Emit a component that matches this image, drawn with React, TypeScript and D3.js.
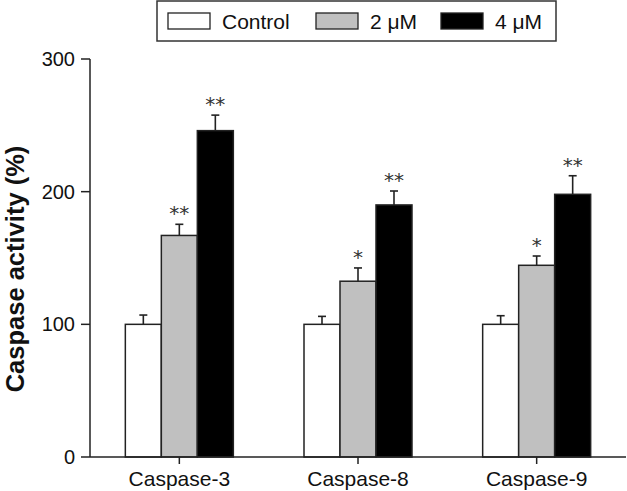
import React from "react";
import * as d3 from "d3";

const categories = ["Caspase-3", "Caspase-8", "Caspase-9"];
const seriesNames = ["Control", "2 μM", "4 μM"];
const controlValues = [100, 100, 100];
const controlErrors = [7, 6, 6.5];
const low2Values = [167, 132.5, 144.5];
const low2Errors = [8.4, 10, 7];
const high4Values = [246, 190, 198];
const high4Errors = [11.7, 10.5, 14];
const low2Stars = ["**", "*", "*"];
const high4Stars = ["**", "**", "**"];
const yTicks = [0, 100, 200, 300];

const seriesValues = [controlValues, low2Values, high4Values];
const seriesErrors = [controlErrors, low2Errors, high4Errors];
const seriesStars = [null, low2Stars, high4Stars];
const fills = ["#ffffff", "#c0c0c0", "#000000"];

const W = 627;
const H = 491;
const FONT = "'Liberation Sans', Arial, Helvetica, sans-serif";

export default function App() {
  const x0 = d3.scaleBand<string>().domain(categories).range([90, 626]).padding(0);
  const groupW = 108;
  const x1 = d3.scaleBand<string>().domain(seriesNames).range([0, groupW]).padding(0);
  const y = d3.scaleLinear().domain([0, 300]).range([457, 59]);
  const stroke = "#222";

  return (
    <svg width={W} height={H} style={{ position: "absolute", left: 0, top: 0, background: "#fff" }} fontFamily={FONT}>
      {/* bars */}
      {categories.map((cat, ci) => {
        const gx = (x0(cat) as number) + (x0.bandwidth() - groupW) / 2;
        return (
          <g key={cat}>
            {seriesNames.map((s, si) => {
              const v = seriesValues[si][ci];
              const e = seriesErrors[si][ci];
              const bx = gx + (x1(s) as number);
              const bw = x1.bandwidth();
              const cx = bx + bw / 2;
              const stars = seriesStars[si];
              return (
                <g key={s}>
                  <line x1={cx} x2={cx} y1={y(v)} y2={y(v + e)} stroke={stroke} strokeWidth={1.6} />
                  <line x1={cx - 4} x2={cx + 4} y1={y(v + e)} y2={y(v + e)} stroke={stroke} strokeWidth={1.6} />
                  <rect x={bx} y={y(v)} width={bw} height={y(0) - y(v)} fill={fills[si]} stroke={stroke} strokeWidth={1.5} />
                  {stars && (
                    <text
                      x={cx}
                      y={y(v + e) - 4}
                      textAnchor="middle"
                      fontSize={20}
                      fontFamily="'DejaVu Sans', sans-serif"
                      fill="#333"
                    >
                      {stars[ci]}
                    </text>
                  )}
                </g>
              );
            })}
          </g>
        );
      })}

      {/* y axis */}
      <line x1={90} x2={90} y1={y(300)} y2={y(0)} stroke={stroke} strokeWidth={1.5} />
      {yTicks.map((t) => (
        <g key={t}>
          <line x1={81} x2={90} y1={y(t)} y2={y(t)} stroke={stroke} strokeWidth={1.5} />
          <text x={75} y={y(t) + 7} textAnchor="end" fontSize={20} fill="#111">
            {t}
          </text>
        </g>
      ))}
      <text
        transform={`translate(24,269) rotate(-90)`}
        textAnchor="middle"
        fontSize={25.5}
        fontWeight="bold"
        fill="#111"
      >
        Caspase activity (%)
      </text>

      {/* x axis */}
      <line x1={90} x2={626} y1={y(0)} y2={y(0)} stroke={stroke} strokeWidth={1.5} />
      {categories.map((cat) => {
        const cx = (x0(cat) as number) + x0.bandwidth() / 2;
        return (
          <g key={cat}>
            <line x1={cx} x2={cx} y1={y(0)} y2={y(0) + 7} stroke={stroke} strokeWidth={1.5} />
            <text x={cx} y={486} textAnchor="middle" fontSize={21} fill="#111">
              {cat}
            </text>
          </g>
        );
      })}

      {/* legend */}
      <rect x={157} y={1} width={399} height={40} fill="#fff" stroke="#333" strokeWidth={1.5} />
      {seriesNames.map((s, si) => {
        const sx = [168, 316, 441][si];
        return (
          <g key={s}>
            <rect x={sx} y={13} width={42} height={16} fill={fills[si]} stroke={stroke} strokeWidth={1.3} />
            <text x={sx + 54} y={29} fontSize={21} fill="#111">
              {s}
            </text>
          </g>
        );
      })}
    </svg>
  );
}
